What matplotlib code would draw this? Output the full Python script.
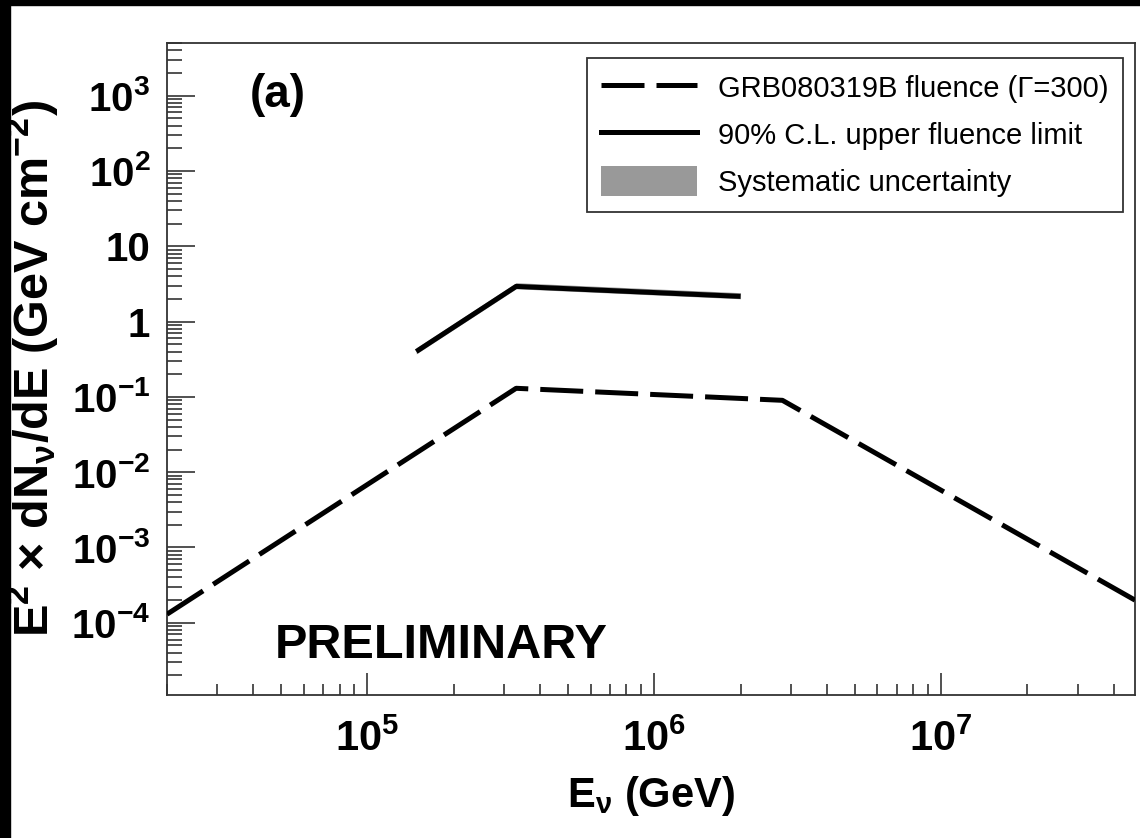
import matplotlib
matplotlib.use("Agg")
import matplotlib.pyplot as plt
from matplotlib.patches import Rectangle, Patch
from matplotlib.lines import Line2D
from matplotlib.ticker import LogLocator, FixedLocator, FixedFormatter, NullFormatter


# GRB080319B expected fluence (Gamma=300), broken power law
grb_e = [2.0e4, 3.3e5, 2.8e6, 4.75e7]
grb_flu = [1.3e-4, 0.13, 0.09, 2.0e-4]

# 90% C.L. upper fluence limit
lim_e = [1.48e5, 3.3e5, 2.0e6]
lim_flu = [0.40, 2.93, 2.16]
# systematic band (relative)
sys_lo = 0.93
sys_hi = 1.12

y_ticks = [1e-4, 1e-3, 1e-2, 1e-1, 1, 10, 1e2, 1e3]
y_labels = ["$10^{-4}$", "$10^{-3}$", "$10^{-2}$", "$10^{-1}$", "1", "10",
            "$10^{2}$", "$10^{3}$"]
x_ticks = [1e5, 1e6, 1e7]
x_labels = ["$10^{5}$", "$10^{6}$", "$10^{7}$"]

FONT = ["Liberation Sans", "DejaVu Sans"]

plt.rcParams["font.family"] = FONT
plt.rcParams["font.weight"] = "bold"
plt.rcParams["axes.labelweight"] = "bold"
plt.rcParams["mathtext.fontset"] = "custom"
plt.rcParams["mathtext.rm"] = "Liberation Sans:bold"
plt.rcParams["mathtext.it"] = "Liberation Sans:bold"
plt.rcParams["mathtext.bf"] = "Liberation Sans:bold"
plt.rcParams["mathtext.sf"] = "Liberation Sans:bold"
plt.rcParams["mathtext.default"] = "rm"

DASH = (8.6, 2.4)

fig = plt.figure(figsize=(11.4, 8.38), dpi=100, facecolor="white")
ax = fig.add_axes([167 / 1140, 1 - 695 / 838, 968 / 1140, 652 / 838])

# black border strips of the slide
fig.patches.append(Rectangle((0, 0), 10 / 1140, 1, transform=fig.transFigure,
                             color="black", zorder=-1))
fig.patches.append(Rectangle((0, 1 - 5 / 838), 1, 5 / 838, transform=fig.transFigure,
                             color="black", zorder=-1))

ax.fill_between(lim_e, [v * sys_lo for v in lim_flu], [v * sys_hi for v in lim_flu],
                color="#999999", lw=0, zorder=2)
ax.plot(lim_e, lim_flu, color="black", lw=3.6, solid_capstyle="butt", zorder=3)
ax.plot(grb_e, grb_flu, color="black", lw=3.6, dashes=DASH,
        dash_capstyle="butt", solid_joinstyle="round", zorder=3)

ax.set_xscale("log")
ax.set_yscale("log")
ax.set_xlim(2.0e4, 4.75e7)
ax.set_ylim(1.1e-5, 5e3)

ax.yaxis.set_major_locator(FixedLocator(y_ticks))
ax.yaxis.set_major_formatter(FixedFormatter(y_labels))
ax.yaxis.set_minor_locator(LogLocator(base=10, subs=range(2, 10), numticks=30))
ax.yaxis.set_minor_formatter(NullFormatter())
ax.xaxis.set_major_locator(FixedLocator(x_ticks))
ax.xaxis.set_major_formatter(FixedFormatter(x_labels))
ax.xaxis.set_minor_locator(LogLocator(base=10, subs=range(2, 10), numticks=30))
ax.xaxis.set_minor_formatter(NullFormatter())

ax.tick_params(axis="both", which="both", direction="in", top=False, right=False,
               colors="#333333", labelcolor="black", width=1.2)
ax.tick_params(axis="y", which="major", length=20, labelsize=29, pad=12)
ax.tick_params(axis="y", which="minor", length=11)
ax.tick_params(axis="x", which="major", length=16, labelsize=30, pad=18)
ax.tick_params(axis="x", which="minor", length=8)
for sp in ax.spines.values():
    sp.set_linewidth(1.3)
    sp.set_color("#333333")

ax.set_xlabel(r"E$_{\nu}$ (GeV)", fontsize=30, fontweight="bold", labelpad=10)
ax.set_ylabel(r"E$^{2}$ $\times$ dN$_{\nu}$/dE (GeV cm$^{-2}$)", fontsize=35,
              fontweight="bold", labelpad=8)

ax.text(0.086, 0.92, "(a)", transform=ax.transAxes, fontsize=33, va="center",
        ha="left")
ax.text(0.1116, 0.057, "PRELIMINARY", transform=ax.transAxes, fontsize=35,
        weight="bold", va="baseline", ha="left")

handles = [
    Line2D([], [], color="black", lw=3.6, dashes=DASH, dash_capstyle="butt"),
    Line2D([], [], color="black", lw=3.6),
    Patch(facecolor="#999999", edgecolor="none"),
]
labels = ["GRB080319B fluence (\u0393=300)", "90% C.L. upper fluence limit",
          "Systematic uncertainty"]
leg = ax.legend(handles, labels, loc="upper right", bbox_to_anchor=(0.9876, 0.977),
                prop={"family": FONT, "size": 21, "weight": "normal"},
                frameon=True, fancybox=False, handlelength=3.3,
                handleheight=1.2, handletextpad=0.7, labelspacing=0.55,
                borderpad=0.5, borderaxespad=0)
leg.get_frame().set_edgecolor("black")
leg.get_frame().set_linewidth(1.3)

fig.savefig("out.png", dpi=100, facecolor="white")
